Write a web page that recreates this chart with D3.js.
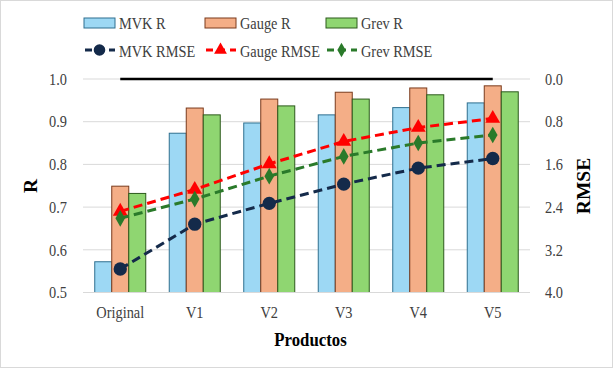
<!DOCTYPE html>
<html><head><meta charset="utf-8">
<script src="https://cdn.jsdelivr.net/npm/d3@7"></script>
<style>body{margin:0;background:#fff;font-family:"Liberation Serif","Times New Roman",serif;}</style>
</head><body>
<svg id="c" width="613" height="368"></svg>
<script>
const categories = ["Original","V1","V2","V3","V4","V5"];
const mvkR   = [0.572,0.873,0.897,0.916,0.933,0.944];
const gaugeR = [0.749,0.932,0.953,0.969,0.979,0.984];
const grevR  = [0.732,0.916,0.937,0.953,0.963,0.970];
const mvkRMSE   = [3.56,2.72,2.33,1.97,1.67,1.49];
const gaugeRMSE = [2.48,2.07,1.59,1.17,0.91,0.74];
const grevRMSE  = [2.61,2.25,1.82,1.45,1.20,1.05];
const refLine   = [0,0,0,0,0,0];
const rTicks = [0.5,0.6,0.7,0.8,0.9,1.0];
const rmseTicks = [0,0.8,1.6,2.4,3.2,4.0];

const svg = d3.select("#c");
svg.append("rect").attr("x",0.5).attr("y",0.5).attr("width",612).attr("height",367)
  .attr("fill","#fff").attr("stroke","#d9d9d9");

function squish(sel,k){
  sel.each(function(){
    const w=this.getComputedTextLength();
    d3.select(this).attr("textLength",w*k).attr("lengthAdjust","spacingAndGlyphs");
  });
}

const L=83,R=530,T=79,B=292.5;
const x = d3.scaleBand().domain(categories).range([L,R]);
const xs = d3.scaleBand().domain(["mvk","gauge","grev"]).range([0,51]);
const y = d3.scaleLinear().domain([0.5,1.0]).range([B,T]);
const y2 = d3.scaleLinear().domain([0,4]).range([T,B]);

// grid
svg.append("g").selectAll("line").data(rTicks).join("line")
  .attr("x1",L).attr("x2",R).attr("y1",d=>y(d)).attr("y2",d=>y(d))
  .attr("stroke","#d9d9d9").attr("stroke-width",1);

// axes
const fontFam='"Liberation Serif","Times New Roman",serif';
const yAxis = svg.append("g").attr("transform",`translate(${L},0)`)
  .call(d3.axisLeft(y).tickValues(rTicks).tickFormat(d3.format(".1f")).tickSize(0).tickPadding(16));
const yAxis2 = svg.append("g").attr("transform",`translate(${R},0)`)
  .call(d3.axisRight(y2).tickValues(rmseTicks).tickFormat(d3.format(".1f")).tickSize(0).tickPadding(15));
const xAxis = svg.append("g").attr("transform",`translate(0,${B})`)
  .call(d3.axisBottom(x).tickSize(0).tickPadding(14));
[yAxis,yAxis2,xAxis].forEach(a=>{
  a.select(".domain").remove();
  a.selectAll("text").attr("font-family",fontFam).attr("font-size",16.5).attr("fill","#404040");
  squish(a.selectAll("text"),0.87);
});

// bars
const series = [
  {key:"mvk",vals:mvkR,fill:"#9dd8f4",stroke:"#2f6f8f"},
  {key:"gauge",vals:gaugeR,fill:"#f4ae87",stroke:"#7a3b1c"},
  {key:"grev",vals:grevR,fill:"#8fd671",stroke:"#2c5a1c"}
];
const groupOff = (x.bandwidth()-51)/2;
series.forEach(s=>{
  svg.append("g").selectAll("rect").data(s.vals).join("rect")
    .attr("x",(d,i)=>x(categories[i])+groupOff+xs(s.key))
    .attr("width",xs.bandwidth())
    .attr("y",d=>y(d)).attr("height",d=>B-y(d))
    .attr("fill",s.fill).attr("stroke",s.stroke).attr("stroke-width",1);
});
svg.append("line").attr("x1",L).attr("x2",R).attr("y1",B).attr("y2",B).attr("stroke","#d9d9d9");

// reference black line
const cx = c => x(c)+x.bandwidth()/2;
svg.append("path").datum(refLine)
  .attr("d",d3.line().x((d,i)=>cx(categories[i])).y(d=>y2(d)))
  .attr("fill","none").attr("stroke","#000").attr("stroke-width",2.5);

// RMSE lines
const lines = [
  {vals:mvkRMSE,color:"#142a4a",sym:d3.symbolCircle,size:140},
  {vals:gaugeRMSE,color:"#ff0000",sym:d3.symbolTriangle,size:95},
  {vals:grevRMSE,color:"#2a7a2a",sym:d3.symbolDiamond,size:80}
];
lines.forEach(l=>{
  svg.append("path").datum(l.vals)
    .attr("d",d3.line().x((d,i)=>cx(categories[i])).y(d=>y2(d)))
    .attr("fill","none").attr("stroke",l.color).attr("stroke-width",3).attr("stroke-dasharray","9,5");
  svg.append("g").selectAll("path").data(l.vals).join("path")
    .attr("transform",(d,i)=>`translate(${cx(categories[i])},${y2(d)})`)
    .attr("d",d3.symbol().type(l.sym).size(l.size)).attr("fill",l.color);
});

// legend
const legBars = [
  {label:"MVK R",x:84,s:series[0]},{label:"Gauge R",x:205,s:series[1]},{label:"Grev R",x:326,s:series[2]}
];
legBars.forEach(b=>{
  svg.append("rect").attr("x",b.x).attr("y",18).attr("width",31).attr("height",10)
    .attr("fill",b.s.fill).attr("stroke",b.s.stroke).attr("stroke-width",1);
  const t=svg.append("text").attr("x",b.x+35).attr("y",29).text(b.label)
    .attr("font-family",fontFam).attr("font-size",17.5).attr("fill","#404040");
  squish(t,0.82);
});
const legLines = [
  {label:"MVK RMSE",x:84,l:lines[0]},{label:"Gauge RMSE",x:205,l:lines[1]},{label:"Grev RMSE",x:326,l:lines[2]}
];
legLines.forEach(b=>{
  svg.append("line").attr("x1",b.x).attr("x2",b.x+31).attr("y1",50).attr("y2",50)
    .attr("stroke",b.l.color).attr("stroke-width",3).attr("stroke-dasharray","7,5").attr("stroke-dashoffset",-1);
  svg.append("path").attr("transform",`translate(${b.x+15.5},50)`)
    .attr("d",d3.symbol().type(b.l.sym).size(b.l.size*0.75)).attr("fill",b.l.color);
  const t=svg.append("text").attr("x",b.x+35).attr("y",57).text(b.label)
    .attr("font-family",fontFam).attr("font-size",17.5).attr("fill","#404040");
  squish(t,0.82);
});

// titles
const t1=svg.append("text").attr("x",(L+R)/2+4).attr("y",346).attr("text-anchor","middle")
  .attr("font-family",fontFam).attr("font-weight","bold").attr("font-size",19.5).attr("fill","#000").text("Productos");
squish(t1,0.86);
const t2=svg.append("text").attr("transform","translate(37,186) rotate(-90)").attr("text-anchor","middle")
  .attr("font-family",fontFam).attr("font-weight","bold").attr("font-size",19.5).attr("fill","#000").text("R");
const t3=svg.append("text").attr("transform","translate(590,186) rotate(-90)").attr("text-anchor","middle")
  .attr("font-family",fontFam).attr("font-weight","bold").attr("font-size",19.5).attr("fill","#000").text("RMSE");
</script>
</body></html>
